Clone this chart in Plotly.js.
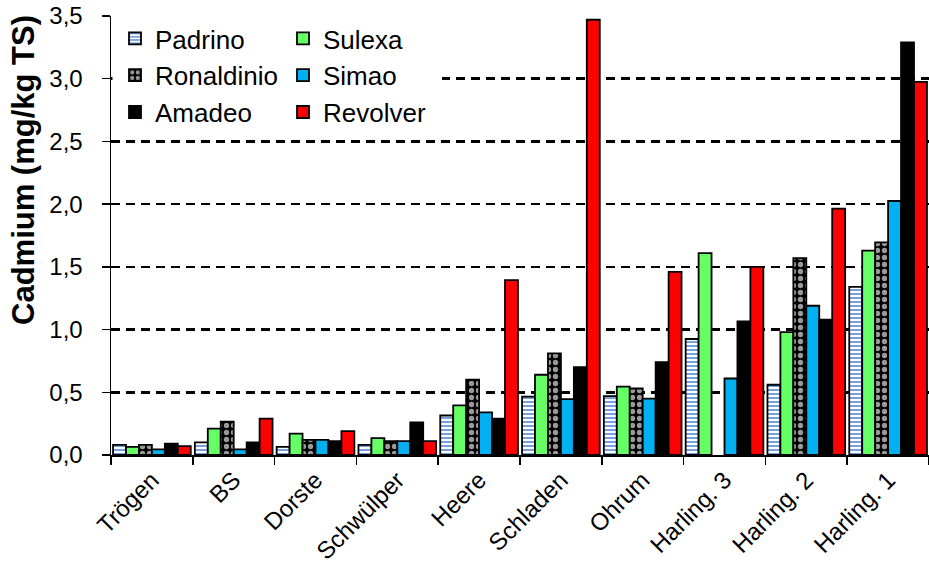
<!DOCTYPE html>
<html>
<head>
<meta charset="utf-8">
<script src="https://cdn.plot.ly/plotly-3.0.1.min.js"></script>
<style>html,body{margin:0;padding:0;background:#fff;}#chart{width:929px;height:564px;}</style>
</head>
<body>
<div id="chart"></div>
<script>
const categories = ["Trögen", "BS", "Dorste", "Schwülper", "Heere", "Schladen", "Ohrum", "Harling. 3", "Harling. 2", "Harling. 1"];
const padrino    = [0.08, 0.10, 0.065, 0.08, 0.315, 0.465, 0.47, 0.925, 0.56, 1.34];
const sulexa     = [0.065, 0.21, 0.17, 0.135, 0.395, 0.64, 0.545, 1.61, 0.98, 1.63];
const ronaldinio = [0.08, 0.265, 0.12, 0.11, 0.60, 0.81, 0.53, null, 1.57, 1.695];
const simao      = [0.045, 0.045, 0.12, 0.11, 0.34, 0.445, 0.45, 0.61, 1.19, 2.025];
const amadeo     = [0.09, 0.10, 0.11, 0.26, 0.29, 0.70, 0.74, 1.065, 1.08, 3.29];
const revolver   = [0.07, 0.29, 0.19, 0.11, 1.395, 3.47, 1.46, 1.50, 1.965, 2.975];
const yTicks = [0, 0.5, 1, 1.5, 2, 2.5, 3, 3.5];

const FONT = "Liberation Sans, Arial, sans-serif";
const outline = {color: "#000", width: 1.8};

// plot area in pixels (for converting positions of legend / title)
const PL = 111, PR = 929, PT = 16, PB = 455;
const px2x = p => (p - PL) / (PR - PL);
const px2y = p => (PB - p) / (PB - PT);

function bar(name, y, marker, legend) {
  return {type: "bar", name: name, x: categories, y: y, marker: Object.assign({line: outline}, marker), legend: legend, hoverinfo: "skip"};
}

const data = [
  bar("Padrino", padrino, {color: "#ffffff", pattern: {shape: "-", fgcolor: "#78A0DA", bgcolor: "#ffffff", size: 4, solidity: 0.5}}, "legend"),
  bar("Sulexa", sulexa, {color: "#66FF66"}, "legend2"),
  bar("Ronaldinio", ronaldinio, {color: "#000000", pattern: {shape: ".", fgcolor: "#999999", bgcolor: "#000000", size: 7, solidity: 0.45}}, "legend"),
  bar("Simao", simao, {color: "#00B0F0"}, "legend2"),
  bar("Amadeo", amadeo, {color: "#000000"}, "legend"),
  bar("Revolver", revolver, {color: "#FF0000"}, "legend2")
];

const legendCommon = {
  font: {family: FONT, size: 26, color: "#000"},
  bgcolor: "rgba(0,0,0,0)",
  yanchor: "top", xanchor: "left",
  y: px2y(15),
  itemclick: false, itemdoubleclick: false,
  tracegroupgap: 0
};

const layout = {
  width: 929, height: 564,
  margin: {l: PL, r: 929 - PR, t: PT, b: 564 - PB, pad: 0},
  paper_bgcolor: "#fff", plot_bgcolor: "#fff",
  font: {family: FONT, size: 24, color: "#000"},
  separators: ",.",
  barmode: "group",
  bargap: 0.05, bargroupgap: 0,
  showlegend: true,
  legend: Object.assign({}, legendCommon, {x: px2x(115)}),
  legend2: Object.assign({}, legendCommon, {x: px2x(283)}),
  xaxis: {
    type: "category",
    tickson: "boundaries",
    ticks: "outside", ticklen: 8, tickwidth: 1.5, tickcolor: "#000",
    showline: true, linecolor: "#000", linewidth: 1.5,
    showgrid: false,
    tickangle: -45,
    tickfont: {family: FONT, size: 24, color: "#000"}
  },
  yaxis: {
    range: [0, 3.5],
    tickvals: yTicks,
    tickformat: ".1f",
    ticks: "outside", ticklen: 8, tickwidth: 1.5, tickcolor: "#000",
    ticklabelstandoff: 14,
    showline: true, linecolor: "#000", linewidth: 1.5,
    showgrid: true, gridcolor: "#000", gridwidth: 2.5, griddash: "9px,6px",
    zeroline: false,
    tickfont: {family: FONT, size: 24, color: "#000"}
  },
  shapes: [{
    type: "rect", xref: "paper", yref: "paper", layer: "above",
    x0: px2x(112.5), x1: px2x(442), y0: px2y(126), y1: px2y(22),
    fillcolor: "#ffffff", line: {width: 0}
  }],
  annotations: [{
    text: "<b>Cadmium (mg/kg TS)</b>",
    textangle: -90,
    xref: "paper", yref: "paper",
    x: px2x(23), y: px2y(170),
    xanchor: "center", yanchor: "middle",
    showarrow: false,
    font: {family: FONT, size: 31, color: "#000"}
  }]
};

Plotly.newPlot("chart", data, layout, {staticPlot: true, displayModeBar: false});
</script>
</body>
</html>
